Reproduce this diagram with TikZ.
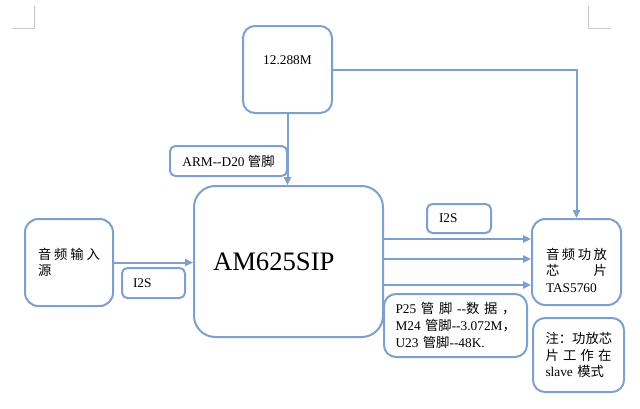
\documentclass[tikz,border=0pt]{standalone}
\usepackage{fontspec}
\setmainfont{Liberation Serif}
\newfontfamily\cjkfont{Noto Sans CJK SC}
\newcommand\zh[1]{{\cjkfont #1}}
\usetikzlibrary{arrows.meta,calc}
\definecolor{lineblue}{RGB}{125,160,205}
\definecolor{markgray}{RGB}{200,200,200}

\begin{document}
\begin{tikzpicture}[
        x=0.75pt, y=-0.75pt,
        blk/.style={draw=lineblue, line width=1.5pt, rounded corners=9pt,
            font=\fontsize{10}{12.5}\selectfont, inner sep=0pt},
        tag/.style={blk, rounded corners=4pt},
        conn/.style={draw=lineblue, line width=1.5pt,
            -{Triangle[length=6pt,width=5.5pt]}},
        cropmark/.style={draw=markgray, line width=0.75pt}
    ]

    \useasboundingbox (0,0) rectangle (640,408);

    % corner marks of the page
    \draw[cropmark] (12,28) -- (34,28) -- (34,6);
    \draw[cropmark] (588,6) -- (588,28) -- (611,28);

    \node[blk, minimum width=66.75pt, minimum height=65.25pt, text depth=14pt]
        (clk) at (287.5,69.5) {12.288M};
    \node[tag, minimum width=87.75pt, minimum height=22.5pt]
        (arm) at (228.5,161) {ARM-{}-D20 \zh{管脚}};
    \node[blk, rounded corners=16pt, minimum width=141.75pt, minimum height=113.25pt,
        text width=113.25pt, align=left, font=\fontsize{20}{24}\selectfont]
        (sip) at (288.5,261.5) {AM625SIP};
    \node[blk, rounded corners=10pt, minimum width=66pt, minimum height=65.25pt,
        text width=46.5pt, align=left]
        (src) at (69,262.5) {\zh{音\hfill 频\hfill 输\hfill 入}\\\zh{源}};
    \node[tag, minimum width=47.25pt, minimum height=22.5pt, text width=30.75pt, align=left]
        (i2sa) at (153.5,283) {I2S};
    \node[tag, minimum width=48pt, minimum height=21.75pt, text width=30pt, align=left]
        (i2sb) at (459,218.5) {I2S};
    \node[blk, rounded corners=10pt, minimum width=66.75pt, minimum height=64.5pt,
        text width=45.75pt, text height=21pt, align=left]
        (amp) at (576.5,262)
        {\zh{音\hfill 频\hfill 功\hfill 放}\\\zh{芯\hfill 片}\\TAS5760};
    \node[blk, minimum width=107.25pt, minimum height=47.25pt, text width=90pt, align=left]
        (pins) at (455.5,325.5)
        {P25\hfill\zh{管}\hfill\zh{脚}\hfill-{}-\zh{数}\hfill\zh{据}\hfill\zh{，}\\
         \mbox{M24 \zh{管脚}-{}-3.072M\zh{，}}\\
         \mbox{U23 \zh{管脚}-{}-48K.}};
    \node[blk, minimum width=68.25pt, minimum height=55.5pt, text width=49.5pt, align=left]
        (note) at (578.5,355)
        {\zh{注：功放芯}\\\zh{片\hfill 工\hfill 作\hfill 在}\\slave \zh{模式}};

    \draw[conn] (clk.east) -| (amp.north);
    \draw[conn] (clk.south) -- (clk.south |- sip.north);
    \draw[conn] (src.east) -- (src.east -| sip.west);
    \foreach \dy in {-22.5,-2.5,23.5}
        \draw[conn] ($(sip.east)+(0,\dy)$) coordinate (s) -- (s -| amp.west);
\end{tikzpicture}
\end{document}
